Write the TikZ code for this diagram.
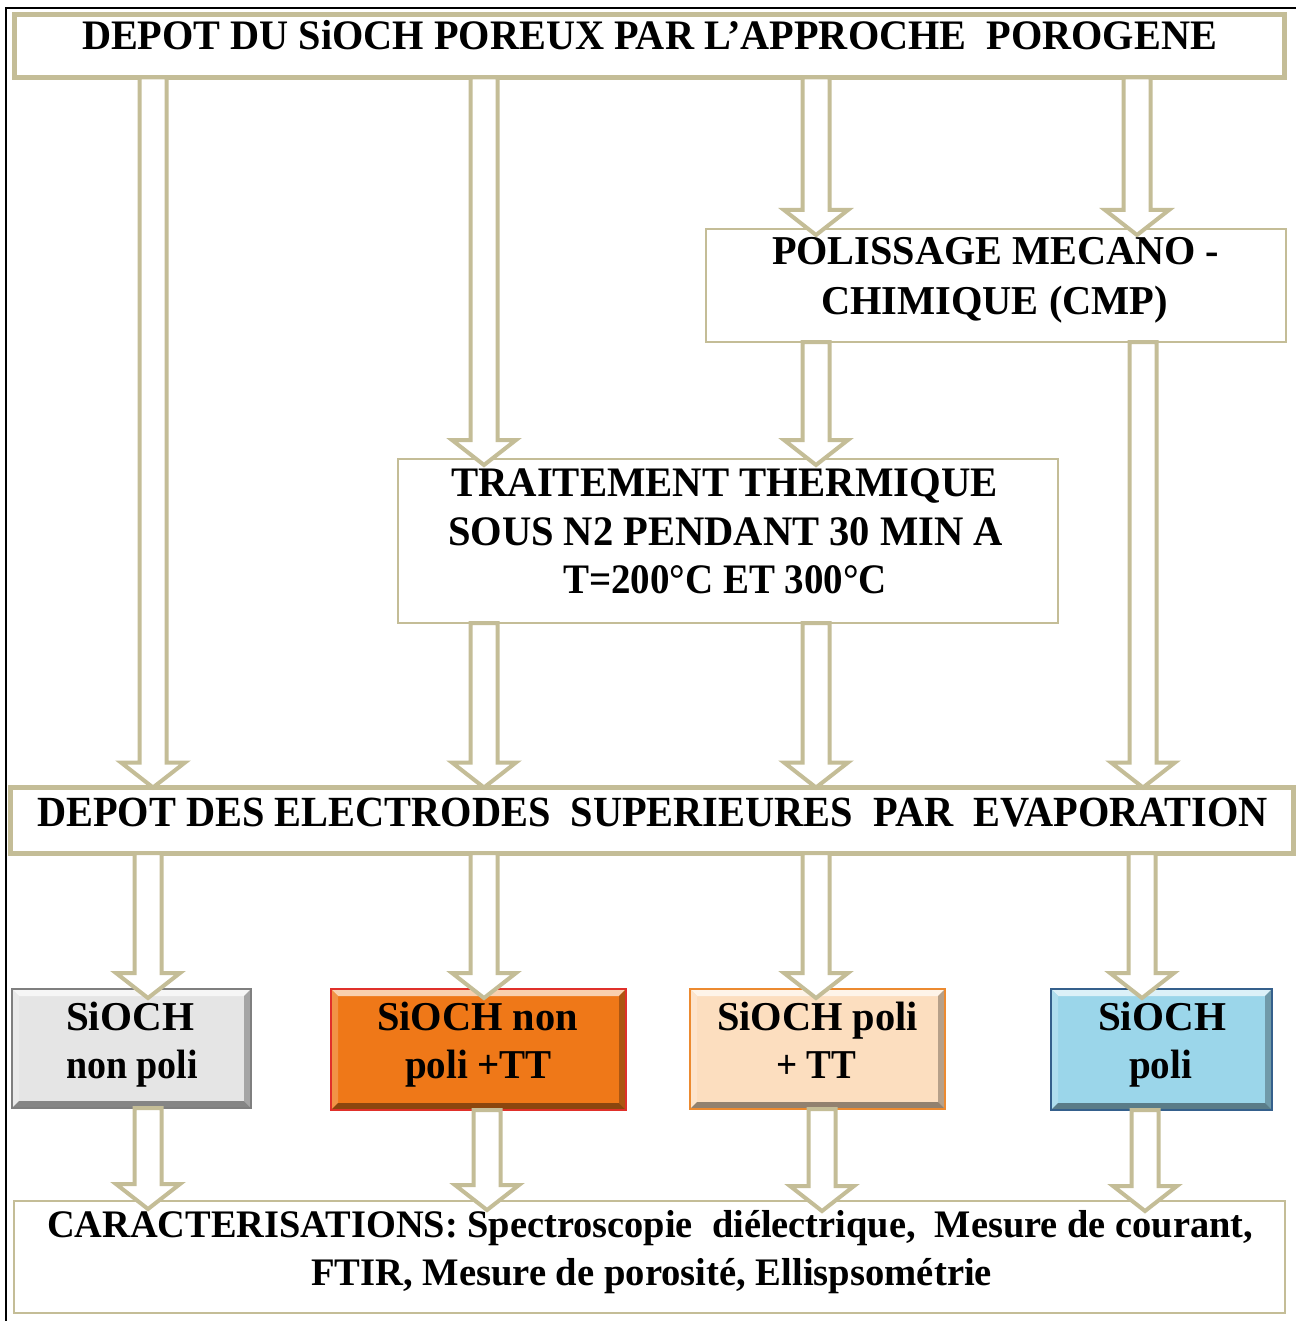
\documentclass[tikz,border=0pt]{standalone}
\usepackage{fontspec}
\setmainfont{Liberation Serif}
\usepackage{graphicx}
\usetikzlibrary{calc}
\definecolor{tanline}{HTML}{C4BD97}
\definecolor{grayfill}{HTML}{E5E5E5}
\definecolor{grayedge}{HTML}{7F7F7F}
\definecolor{orangefill}{HTML}{EF7818}
\definecolor{orangeedge}{HTML}{E0302A}
\definecolor{peachfill}{HTML}{FCDEBF}
\definecolor{peachedge}{HTML}{EC8A30}
\definecolor{bluefill}{HTML}{9BD6EA}
\definecolor{blueedge}{HTML}{35608C}
\newcommand\fl[2]{\resizebox{#1pt}{\height}{#2}}
% #1 tip depth, #2 x, #3 source node, #4 target node
\newcommand\barrow[4][6]{%
  \draw[barrowst] let \p1=(#3.south), \p2=(#4.north) in
    (#2pt-13.5pt,\y1) -- (#2pt-13.5pt,\y2+25pt-#1pt) -- (#2pt-32pt,\y2+25pt-#1pt)
    -- (#2pt,\y2-#1pt) -- (#2pt+32pt,\y2+25pt-#1pt) -- (#2pt+13.5pt,\y2+25pt-#1pt)
    -- (#2pt+13.5pt,\y1) -- cycle;}
% bevel: #1 node, #2 fill colour, #3 edge colour
\newcommand\bevel[3]{%
  \fill[#2!35!white] (#1.north west) -- (#1.north east) -- ([shift={(-7pt,-7pt)}]#1.north east) -- ([shift={(7pt,-7pt)}]#1.north west) -- cycle;
  \fill[#2!80!white] (#1.north west) -- ([shift={(7pt,-7pt)}]#1.north west) -- ([shift={(7pt,7pt)}]#1.south west) -- (#1.south west) -- cycle;
  \fill[#2!72!black] (#1.north east) -- ([shift={(-7pt,-7pt)}]#1.north east) -- ([shift={(-7pt,7pt)}]#1.south east) -- (#1.south east) -- cycle;
  \fill[#2!58!black] (#1.south west) -- (#1.south east) -- ([shift={(-7pt,7pt)}]#1.south east) -- ([shift={(7pt,7pt)}]#1.south west) -- cycle;
  \draw[#3, line width=1.5pt] (#1.north west) rectangle (#1.south east);}
\begin{document}
\begin{tikzpicture}[x=1pt,y=-1pt,
  thickbox/.style={draw=tanline, line width=5pt, fill=white, inner sep=0pt, outer sep=0pt},
  thinbox/.style={draw=tanline, line width=2pt, fill=white, inner sep=0pt, outer sep=0pt},
  colbox/.style={fill=#1, inner sep=0pt, outer sep=0pt},
  lbl/.style={inner sep=0pt, outer sep=0pt, anchor=base west, text=black, font=\fontsize{#1}{#1}\selectfont\bfseries},
  barrowst/.style={draw=tanline, line width=4pt, fill=white, line join=miter}]
\useasboundingbox (0,0) rectangle (1296,1321);
\fill[white] (0,0) rectangle (1296,1321);
% outer frame (cropped)
\draw[line width=2.2pt, black] (6,1321) -- (6,8) -- (1296,8);

% boxes
\node[thickbox, minimum width=1270pt, minimum height=63pt] (dep) at (649.5,46) {};
\node[thinbox, minimum width=580pt, minimum height=113pt] (cmp) at (996,285.5) {};
\node[thinbox, minimum width=660pt, minimum height=164pt] (tt) at (728,541) {};
\node[thickbox, minimum width=1282.5pt, minimum height=65.5pt] (elec) at (651.75,820.25) {};
\node[colbox=grayfill, minimum width=239pt, minimum height=119pt] (c1) at (131.5,1048.5) {};
\node[colbox=orangefill, minimum width=295pt, minimum height=121pt] (c2) at (478.5,1049.5) {};
\node[colbox=peachfill, minimum width=255pt, minimum height=120pt] (c3) at (817.5,1049) {};
\node[colbox=bluefill, minimum width=221pt, minimum height=121pt] (c4) at (1161.5,1049.5) {};
\node[thinbox, minimum width=1271pt, minimum height=112pt] (car) at (649.5,1257) {};
\bevel{c1}{grayfill}{grayedge}
\bevel{c2}{orangefill}{orangeedge}
\bevel{c3}{peachfill}{peachedge}
\bevel{c4}{bluefill}{blueedge}

% arrows
\barrow[0]{153}{dep}{elec}
\barrow{484}{dep}{tt}
\barrow{816}{dep}{cmp}
\barrow{1137}{dep}{cmp}
\barrow{816}{cmp}{tt}
\barrow[0]{1143}{cmp}{elec}
\barrow[0]{484}{tt}{elec}
\barrow[0]{816}{tt}{elec}
\barrow[9]{148}{elec}{c1}
\barrow[9]{484}{elec}{c2}
\barrow[9]{816}{elec}{c3}
\barrow[9]{1142}{elec}{c4}
\barrow[8]{148}{c1}{car}
\barrow[9]{487}{c2}{car}
\barrow[10]{822}{c3}{car}
\barrow[10]{1145}{c4}{car}

% texts
\node[lbl=42pt] (tdep) at (82,50) {\fl{1135}{DEPOT DU SiOCH POREUX PAR L’APPROCHE~~POROGENE}};
\node[lbl=41pt] (tcmp1) at (772,265) {\fl{447}{POLISSAGE MECANO -}};
\node[lbl=41pt] (tcmp2) at (821,315) {\fl{347}{CHIMIQUE (CMP)}};
\node[lbl=42pt] (ttt1) at (451,496) {\fl{547}{TRAITEMENT THERMIQUE}};
\node[lbl=42pt] (ttt2) at (448,545) {\fl{555}{SOUS N2 PENDANT 30 MIN A}};
\node[lbl=42pt] (ttt3) at (563,593) {\fl{324}{T=200°C ET 300°C}};
\node[lbl=43pt] (telec) at (37,826) {\fl{1231}{DEPOT DES ELECTRODES~~SUPERIEURES~~PAR~~EVAPORATION}};
\node[lbl=41pt] (tc1a) at (66,1030) {\fl{128}{SiOCH}};
\node[lbl=41pt] (tc1b) at (66,1078) {\fl{132}{non poli}};
\node[lbl=41pt] (tc2a) at (377,1030) {\fl{201}{SiOCH non}};
\node[lbl=41pt] (tc2b) at (405,1078) {\fl{147}{poli +TT}};
\node[lbl=41pt] (tc3a) at (717,1030) {\fl{201}{SiOCH poli}};
\node[lbl=41pt] (tc3b) at (776,1078) {\fl{80}{+ TT}};
\node[lbl=41pt] (tc4a) at (1098,1030) {\fl{128}{SiOCH}};
\node[lbl=41pt] (tc4b) at (1129,1078) {\fl{63}{poli}};
\node[lbl=39pt] (tcar1) at (47,1237) {\fl{1206}{CARACTERISATIONS: Spectroscopie~~diélectrique,~~Mesure de courant,}};
\node[lbl=39pt] (tcar2) at (311,1285) {\fl{681}{FTIR, Mesure de porosité, Ellispsométrie}};
\end{tikzpicture}
\end{document}
